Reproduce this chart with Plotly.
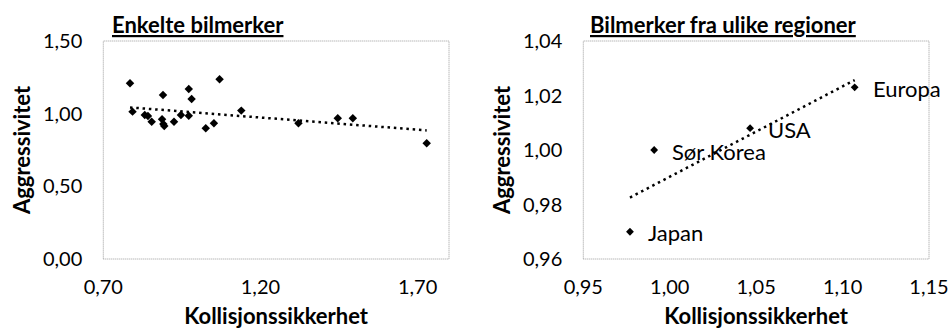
import numpy as np
import plotly.graph_objects as go

# --- individual car brands: crash safety vs. aggressivity ---
brand_safety = [0.785, 0.793, 0.832, 0.842, 0.854, 0.890, 0.887, 0.894, 0.891,
                0.925, 0.947, 0.972, 0.981, 0.972, 1.026, 1.052, 1.070, 1.139,
                1.321, 1.446, 1.494, 1.729]
brand_aggr = [1.209, 1.014, 0.991, 0.984, 0.945, 1.129, 0.961, 0.915, 0.929,
              0.945, 0.991, 1.170, 1.101, 0.986, 0.899, 0.934, 1.237, 1.021,
              0.934, 0.968, 0.968, 0.796]

# --- brands grouped by region ---
regions = ["Japan", "Sør Korea", "USA", "Europa"]
region_safety = [0.977, 0.991, 1.0465, 1.107]
region_aggr = [0.970, 1.000, 1.008, 1.023]

FONT = "Lato"
W, H = 949, 329


def trend(xs, ys):
    xs = np.asarray(xs, dtype=float)
    ys = np.asarray(ys, dtype=float)
    k, m = np.polyfit(xs, ys, 1)
    xe = np.array([xs.min(), xs.max()])
    return xe, k * xe + m


fig = go.Figure()

# left panel
fig.add_trace(go.Scatter(x=brand_safety, y=brand_aggr, mode="markers",
                         marker=dict(symbol="diamond", size=6.5, color="black"),
                         xaxis="x", yaxis="y", showlegend=False))
tx, ty = trend(brand_safety, brand_aggr)
fig.add_trace(go.Scatter(x=tx, y=ty, mode="lines",
                         line=dict(color="black", width=2.5, dash="2.5px,3.8px"),
                         xaxis="x", yaxis="y", showlegend=False))

# right panel
fig.add_trace(go.Scatter(x=region_safety, y=region_aggr, mode="markers",
                         marker=dict(symbol="diamond", size=6, color="black"),
                         xaxis="x2", yaxis="y2", showlegend=False))
tx2, ty2 = trend(region_safety, region_aggr)
fig.add_trace(go.Scatter(x=tx2, y=ty2, mode="lines",
                         line=dict(color="black", width=2.5, dash="2.5px,3.8px"),
                         xaxis="x2", yaxis="y2", showlegend=False))

ydom = [1 - 259 / H, 1 - 41 / H]
xdom1 = [103.3 / W, 449 / W]
xdom2 = [583.3 / W, 929 / W]

tickfont = dict(family=FONT, size=20, color="black")
titlefont = dict(family=FONT, size=22, color="black", weight="bold")

common_x = dict(showgrid=False, zeroline=False, showline=False, ticks="",
                automargin=False, tickfont=tickfont, ticklabelstandoff=14,
                title=dict(text="Kollisjonssikkerhet", font=titlefont, standoff=22))
common_y = dict(showgrid=False, zeroline=False, showline=False, ticks="",
                automargin=False, tickfont=tickfont, ticklabelstandoff=20,
                title=dict(text="Aggressivitet", font=titlefont, standoff=6))

fig.update_layout(
    width=W, height=H,
    margin=dict(l=0, r=0, t=0, b=0),
    paper_bgcolor="white", plot_bgcolor="white",
    separators=", ",
    font=dict(family=FONT, color="black"),
    xaxis=dict(domain=xdom1, range=[0.7, 1.8], tick0=0.7, dtick=0.5,
               tickformat=".2f", anchor="y", **common_x),
    yaxis=dict(domain=ydom, range=[0, 1.5], dtick=0.5, tickformat=".2f",
               anchor="x", **common_y),
    xaxis2=dict(domain=xdom2, range=[0.95, 1.15], tick0=0.95, dtick=0.05,
                tickformat=".2f", anchor="y2", **common_x),
    yaxis2=dict(domain=ydom, range=[0.96, 1.04], dtick=0.02, tickformat=".2f",
                anchor="x2", **common_y),
)

# dotted plot-area frames
for xr, yr in (("x domain", "y domain"), ("x2 domain", "y2 domain")):
    fig.add_shape(type="rect", xref=xr, yref=yr, x0=0, x1=1, y0=0, y1=1,
                  line=dict(color="#9a9a9a", width=1, dash="1px,1px"),
                  layer="above")

# panel titles
panel_font = dict(family=FONT, size=22, color="black", weight="bold",
                  lineposition="under")
fig.add_annotation(text="Enkelte bilmerker", xref="paper", yref="paper",
                   x=197.5 / W, y=1 - 24 / H, showarrow=False,
                   xanchor="center", yanchor="middle", font=panel_font)
fig.add_annotation(text="Bilmerker fra ulike regioner", xref="paper", yref="paper",
                   x=723 / W, y=1 - 24 / H, showarrow=False,
                   xanchor="center", yanchor="middle", font=panel_font)

# region labels to the right of each point
for name, xv, yv in zip(regions, region_safety, region_aggr):
    fig.add_annotation(text=name, x=xv, y=yv, xref="x2", yref="y2",
                       showarrow=False, xanchor="left", yanchor="middle",
                       xshift=16, yshift=-1,
                       font=dict(family=FONT, size=22, color="black"))

fig.write_html("out.html")
